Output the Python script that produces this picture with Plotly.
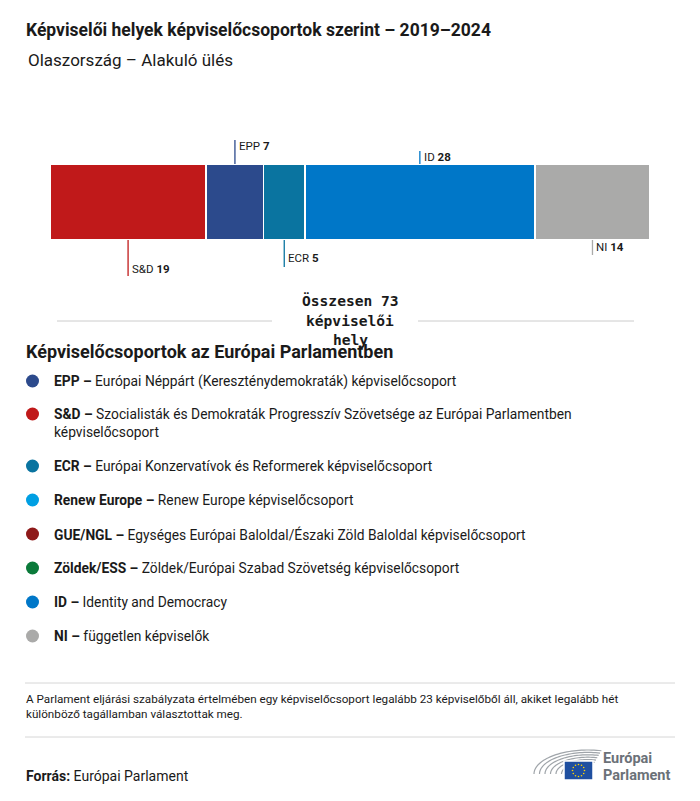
import numpy as np
import plotly.graph_objects as go

W, H = 700, 801

# ---- data ----
groups = ["S&D", "EPP", "ECR", "ID", "NI"]
seats = [19, 7, 5, 28, 14]
bar_colors = ["#C0191A", "#2C4A8C", "#0A74A0", "#0077C8", "#AAAAA9"]

legend_abbr = ["EPP", "S&D", "ECR", "Renew Europe", "GUE/NGL", "Zöldek/ESS", "ID", "NI"]
legend_desc = [
    "Európai Néppárt (Kereszténydemokraták) képviselőcsoport",
    "Szocialisták és Demokraták Progresszív Szövetsége az Európai Parlamentben<br>képviselőcsoport",
    "Európai Konzervatívok és Reformerek képviselőcsoport",
    "Renew Europe képviselőcsoport",
    "Egységes Európai Baloldal/Északi Zöld Baloldal képviselőcsoport",
    "Zöldek/Európai Szabad Szövetség képviselőcsoport",
    "Identity and Democracy",
    "független képviselők",
]
legend_colors = ["#2C4A8C", "#C0191A", "#0A74A0", "#009FE3", "#8E1A1A", "#0B7A3A", "#0077C8", "#AAAAA9"]

title = "Képviselői helyek képviselőcsoportok szerint – 2019–2024"
subtitle = "Olaszország – Alakuló ülés"
total_lines = ["Összesen 73", "képviselői", "hely"]
legend_title = "Képviselőcsoportok az Európai Parlamentben"
footnote = ("A Parlament eljárási szabályzata értelmében egy képviselőcsoport legalább 23 képviselőből áll, akiket legalább hét"
            "<br>különböző tagállamban választottak meg.")
source = "<b>Forrás:</b> Európai Parlament"

FONT = "Roboto, sans-serif"
TXT = "#1a1a1a"


def X(px):
    return px / W


def Y(py):
    return 1 - py / H


fig = go.Figure()
for g, s, c in zip(groups, seats, bar_colors):
    fig.add_trace(go.Bar(
        x=[s], y=[0], orientation="h", name=g,
        marker=dict(color=c, line=dict(color="white", width=1.5)),
        width=1, hoverinfo="skip", showlegend=False,
    ))

total = sum(seats)
fig.update_layout(
    barmode="stack",
    width=W, height=H,
    margin=dict(l=0, r=0, t=0, b=0),
    paper_bgcolor="white", plot_bgcolor="rgba(0,0,0,0)",
    xaxis=dict(domain=[X(50), X(650)], range=[0, total], visible=False, fixedrange=True),
    yaxis=dict(domain=[Y(240), Y(164)], range=[-0.5, 0.5], visible=False, fixedrange=True),
    showlegend=False,
    font=dict(family=FONT, color=TXT),
)

shapes = []
annotations = []

# segment leader lines & labels: (line_start_px, line_end_px, label_y_px)
label_pos = {
    "S&D": (240, 276, 269),
    "EPP": (140, 164, 146),
    "ECR": (240, 267, 258),
    "ID": (151, 164, 157),
    "NI": (240, 255, 247),
}
cum = np.cumsum([0] + seats)
for i, (g, s, c) in enumerate(zip(groups, seats, bar_colors)):
    mid = (cum[i] + cum[i + 1]) / 2
    y0, y1, ly = label_pos[g]
    shapes.append(dict(type="line", xref="x", yref="paper", x0=mid, x1=mid, y0=Y(y0), y1=Y(y1),
                       line=dict(color=c, width=1.3)))
    annotations.append(dict(xref="x", yref="paper", x=mid, y=Y(ly), xshift=2, xanchor="left", yanchor="middle",
                            text=f"{g} <b>{s}</b>", showarrow=False,
                            font=dict(size=11.5, color=TXT, family=FONT)))

# title / subtitle
annotations.append(dict(xref="paper", yref="paper", x=X(24), y=Y(30), xanchor="left", yanchor="middle",
                        text=f"<b>{title}</b>", showarrow=False, font=dict(size=17.5, color=TXT, family=FONT)))
annotations.append(dict(xref="paper", yref="paper", x=X(26), y=Y(60), xanchor="left", yanchor="middle",
                        text=subtitle, showarrow=False, font=dict(size=17, color=TXT, family=FONT)))

# total text
for k, line in enumerate(total_lines):
    annotations.append(dict(xref="paper", yref="paper", x=X(350), y=Y(300 + 20 * k), xanchor="center",
                            yanchor="middle", text=f"<b>{line}</b>", showarrow=False,
                            font=dict(size=14.6, color=TXT, family="DejaVu Sans Mono")))
for x0, x1 in [(57, 272), (418, 634)]:
    shapes.append(dict(type="line", xref="paper", yref="paper", x0=X(x0), x1=X(x1), y0=Y(321), y1=Y(321),
                       line=dict(color="#cccccc", width=1)))

# legend title
annotations.append(dict(xref="paper", yref="paper", x=X(24), y=Y(352), xanchor="left", yanchor="middle",
                        text=f"<b>{legend_title}</b>", showarrow=False, font=dict(size=18, color=TXT, family=FONT)))

# legend items
legend_y = [381, 414, 466, 500, 534, 568, 602, 636]
for ab, desc, col, ly in zip(legend_abbr, legend_desc, legend_colors, legend_y):
    shapes.append(dict(type="circle", xref="paper", yref="paper", x0=X(26), x1=X(39), y0=Y(ly + 6.5), y1=Y(ly - 6.5),
                       fillcolor=col, line=dict(width=0)))
    annotations.append(dict(xref="paper", yref="paper", x=X(52), y=Y(ly - 10), xanchor="left", yanchor="top",
                            text=f"<b>{ab} –</b> {desc}", showarrow=False, align="left",
                            font=dict(size=13.8, color=TXT, family=FONT)))

# footnote
for yy in [683, 737]:
    shapes.append(dict(type="line", xref="paper", yref="paper", x0=X(25), x1=X(675), y0=Y(yy), y1=Y(yy),
                       line=dict(color="#d6d6d6", width=1)))
annotations.append(dict(xref="paper", yref="paper", x=X(24), y=Y(690), xanchor="left", yanchor="top",
                        text=footnote, showarrow=False, align="left",
                        font=dict(size=11.7, color=TXT, family=FONT)))
annotations.append(dict(xref="paper", yref="paper", x=X(24), y=Y(776), xanchor="left", yanchor="middle",
                        text=source, showarrow=False, font=dict(size=14, color=TXT, family=FONT)))

# logo: hemicycle arcs
cx, cy = 588, 774
for k in range(7):
    rx = 54 - k * 5.5
    ry = 24 - k * 2.4
    t = np.linspace(np.pi * 0.42, np.pi, 40)
    xs = cx + rx * np.cos(t)
    ys = cy - ry * np.sin(t)
    path = "M " + " L ".join(f"{X(a):.5f},{Y(b):.5f}" for a, b in zip(xs, ys))
    shapes.append(dict(type="path", xref="paper", yref="paper", path=path,
                       line=dict(color="#a0a5aa", width=1.2)))
shapes.append(dict(type="rect", xref="paper", yref="paper", x0=X(564), x1=X(593), y0=Y(780), y1=Y(761),
                   fillcolor="#1F4FA0", line=dict(color="white", width=1.5)))
for a in np.linspace(0, 2 * np.pi, 13)[:-1]:
    sx = 578.5 + 6 * np.cos(a)
    sy = 770.5 + 6 * np.sin(a)
    shapes.append(dict(type="circle", xref="paper", yref="paper", x0=X(sx - 0.8), x1=X(sx + 0.8),
                       y0=Y(sy + 0.8), y1=Y(sy - 0.8), fillcolor="#FFD200", line=dict(width=0)))
annotations.append(dict(xref="paper", yref="paper", x=X(601), y=Y(758), xanchor="left", yanchor="middle",
                        text="<b>Európai</b>", showarrow=False, font=dict(size=14.5, color="#6b7178", family=FONT)))
annotations.append(dict(xref="paper", yref="paper", x=X(601), y=Y(775), xanchor="left", yanchor="middle",
                        text="<b>Parlament</b>", showarrow=False, font=dict(size=14.5, color="#6b7178", family=FONT)))

fig.update_layout(shapes=shapes, annotations=annotations)
fig.write_html("out.html", config={"displayModeBar": False},
               post_script="document.body.style.margin='0px';")
